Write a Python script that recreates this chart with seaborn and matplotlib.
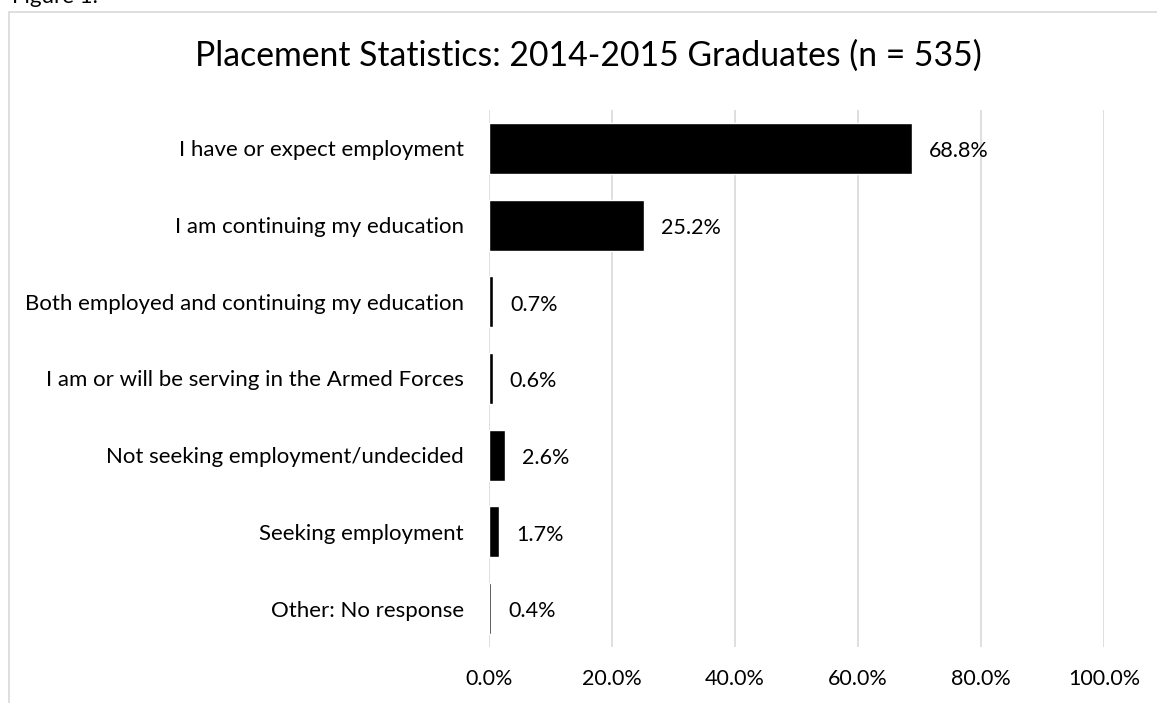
import pandas as pd
import seaborn as sns
import matplotlib.pyplot as plt
from matplotlib.patches import Rectangle
from matplotlib.ticker import FuncFormatter

# Chart data
categories = ['I have or expect employment',
              'I am continuing my education',
              'Both employed and continuing my education',
              'I am or will be serving in the Armed Forces',
              'Not seeking employment/undecided',
              'Seeking employment',
              'Other: No response']
shares = [68.8, 25.2, 0.7, 0.6, 2.6, 1.7, 0.4]
x_ticks = [0, 20, 40, 60, 80, 100]

df = pd.DataFrame({'category': categories, 'share': shares})

sns.set_style('white')
plt.rcParams['font.family'] = ['Lato', 'DejaVu Sans']
plt.rcParams['text.color'] = 'black'

W, H = 1157, 703
fig = plt.figure(figsize=(W / 100, H / 100), dpi=100)
ax = fig.add_axes([489 / W, 1 - 647 / H, 615 / W, 537 / H])

sns.barplot(data=df, x='share', y='category', color='black', width=0.665,
            saturation=1, ax=ax, orient='h')

ax.set_xlim(0, 100)
ax.set_xticks(x_ticks)
ax.xaxis.set_major_formatter(FuncFormatter(lambda v, p: f'{v:.1f}%'))
ax.grid(axis='x', color='#d9d9d9', linewidth=1.2)
ax.set_axisbelow(True)
for s in ax.spines.values():
    s.set_visible(False)
ax.tick_params(axis='x', length=0, pad=16, labelsize=15.5, labelcolor='black')
ax.tick_params(axis='y', length=0, pad=18, labelsize=16, labelcolor='black')
ax.set_xlabel('')
ax.set_ylabel('')

# value labels
for i, v in enumerate(shares):
    ax.annotate(f'{v:.1f}%', (v, i), xytext=(12, -2), textcoords='offset points',
                va='center', ha='left', fontsize=15.5, color='black')

fig.text(588 / W, 1 - 56 / H, 'Placement Statistics: 2014-2015 Graduates (n = 535)',
         ha='center', va='center', fontsize=24.3, color='black')
fig.text(12 / W, 1 - 3 / H, 'Figure 1.', ha='left', va='baseline', fontsize=16,
         color='black')

# chart frame
fig.patches.append(Rectangle((9 / W, -0.1), 1.2, 1 - 12 / H + 0.1,
                             transform=fig.transFigure, fill=False,
                             edgecolor='#d9d9d9', linewidth=1.2))

fig.savefig('out.png', dpi=100)
